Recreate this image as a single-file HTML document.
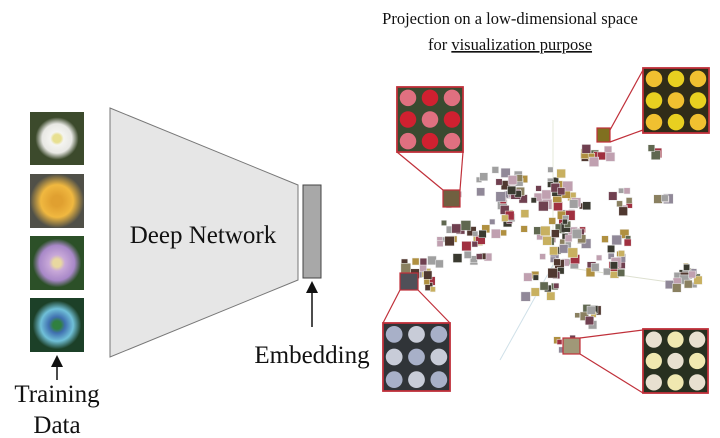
<!DOCTYPE html>
<html><head><meta charset="utf-8"><style>
body{margin:0;background:#fff;width:720px;height:438px;overflow:hidden}
svg{display:block}
text{font-family:"Liberation Serif",serif;fill:#111}
</style></head><body>
<svg id="s" width="720" height="438" viewBox="0 0 720 438">
<defs>
<marker id="ah" markerWidth="8" markerHeight="8" refX="4" refY="4" orient="auto"><path d="M0,0 L8,4 L0,8 z" fill="#111"/></marker>
<radialGradient id="g1"><stop offset="0.15" stop-color="#e8e090"/><stop offset="0.25" stop-color="#f4f4f0"/><stop offset="0.55" stop-color="#e8e8e4"/><stop offset="0.8" stop-color="#3c4a2c"/></radialGradient>
<radialGradient id="g2"><stop offset="0.2" stop-color="#e0a030"/><stop offset="0.6" stop-color="#f0b840"/><stop offset="1" stop-color="#505048"/></radialGradient>
<radialGradient id="g3"><stop offset="0.15" stop-color="#e8d8a0"/><stop offset="0.3" stop-color="#c8a8d8"/><stop offset="0.65" stop-color="#a888c8"/><stop offset="0.9" stop-color="#2c5028"/></radialGradient>
<radialGradient id="g4"><stop offset="0.15" stop-color="#308040"/><stop offset="0.3" stop-color="#4070b0"/><stop offset="0.6" stop-color="#70c0d8"/><stop offset="0.9" stop-color="#1c4028"/></radialGradient>
</defs>
<text x="510" y="24" font-size="16.5" text-anchor="middle">Projection on a low-dimensional space</text>
<text x="510" y="50" font-size="16.5" text-anchor="middle">for <tspan text-decoration="underline">visualization purpose</tspan></text>
<rect x="30" y="112" width="54" height="53" fill="url(#g1)"/>
<rect x="30" y="174" width="54" height="54" fill="url(#g2)"/>
<rect x="30" y="236" width="54" height="54" fill="url(#g3)"/>
<rect x="30" y="298" width="54" height="54" fill="url(#g4)"/>
<polygon points="110,108 298,185 298,280 110,357" fill="#e6e6e6" stroke="#777" stroke-width="1"/>
<rect x="303" y="185" width="18" height="93" fill="#a8a8a8" stroke="#444" stroke-width="1"/>
<text x="203" y="243" font-size="25" text-anchor="middle">Deep Network</text>
<text x="312" y="363" font-size="25" text-anchor="middle">Embedding</text>
<text x="57" y="402" font-size="25" text-anchor="middle">Training</text>
<text x="57" y="433" font-size="25" text-anchor="middle">Data</text>
<line x1="312" y1="327" x2="312" y2="287" stroke="#111" stroke-width="1.5" marker-end="url(#ah)"/>
<line x1="57" y1="380" x2="57" y2="361" stroke="#111" stroke-width="1.5" marker-end="url(#ah)"/>
<line x1="553" y1="120" x2="553" y2="270" stroke="#e4e8d8" stroke-width="1"/>
<line x1="553" y1="265" x2="500" y2="360" stroke="#cfe0e8" stroke-width="1"/>
<line x1="570" y1="268" x2="690" y2="285" stroke="#dde0d0" stroke-width="1"/>
<g id="pts"></g>
<g fill="none" stroke="#c0303a" stroke-width="1.2">
<line x1="397" y1="152" x2="443" y2="190"/><line x1="463" y1="152" x2="460" y2="190"/>
<line x1="610" y1="142" x2="643" y2="130"/><line x1="610" y1="130" x2="643" y2="70"/>
<line x1="400" y1="290" x2="383" y2="323"/><line x1="418" y1="290" x2="450" y2="323"/>
<line x1="580" y1="338" x2="643" y2="330"/><line x1="580" y1="354" x2="643" y2="393"/>
</g>
<g id="ins"></g>
</svg>
<script>
var seed=7;function r(){seed=(seed*16807)%2147483647;return (seed-1)/2147483646;}
var ns="http://www.w3.org/2000/svg",pts=document.getElementById("pts");
function R(p,x,y,w,h,f,st,sw){var e=document.createElementNS(ns,"rect");e.setAttribute("x",x);e.setAttribute("y",y);e.setAttribute("width",w);e.setAttribute("height",h);e.setAttribute("fill",f);if(st){e.setAttribute("stroke",st);e.setAttribute("stroke-width",sw);}p.appendChild(e);}
var cols=["#3a3a30","#8a8060","#c0a0b0","#704050","#b09040","#606850","#a0a0a0","#503830","#c8b060","#908898","#a03040"];
var clusters=[[560,230,35,40,55],[555,185,25,20,20],[500,180,30,20,20],[460,240,35,25,25],[420,270,25,20,18],[540,280,20,18,12],[680,275,18,15,20],[610,250,25,30,20],[590,150,20,12,12],[585,310,12,18,10],[560,340,12,8,6],[505,210,20,20,15],[620,200,15,15,8],[450,200,10,10,4],[648,148,6,8,3],[660,200,10,10,4]];
clusters.forEach(function(c){for(var i=0;i<c[4];i++){var x=c[0]+(r()+r()-1)*c[2],y=c[1]+(r()+r()-1)*c[3],s=5+r()*5;R(pts,x,y,s,s,cols[Math.floor(r()*cols.length)],"#eee",0.5);}});
var ins=document.getElementById("ins");
R(ins,443,190,17,17,"#706040","#c0303a",1.2);R(ins,597,128,13,14,"#807020","#c0303a",1.2);
R(ins,400,273,18,17,"#505058","#c0303a",1.2);R(ins,563,338,17,16,"#a09878","#c0303a",1.2);
function grid(x,y,w,h,bg,c1,c2){R(ins,x,y,w,h,bg);for(var i=0;i<3;i++)for(var j=0;j<3;j++){var e=document.createElementNS(ns,"circle");e.setAttribute("cx",x+w/6+i*w/3);e.setAttribute("cy",y+h/6+j*h/3);e.setAttribute("r",w/8);e.setAttribute("fill",(i+j)%2?c1:c2);ins.appendChild(e);}var b=document.createElementNS(ns,"rect");b.setAttribute("x",x);b.setAttribute("y",y);b.setAttribute("width",w);b.setAttribute("height",h);b.setAttribute("fill","none");b.setAttribute("stroke","#c0303a");b.setAttribute("stroke-width","1.8");ins.appendChild(b);}
grid(397,87,66,65,"#3a4a30","#d02030","#e07080");
grid(643,68,66,65,"#302c18","#e8d020","#f0c030");
grid(383,323,67,68,"#303438","#c8ccd8","#a8b0c8");
grid(643,329,65,64,"#283020","#f0e8b0","#e8e0d0");
</script>
</body></html>
